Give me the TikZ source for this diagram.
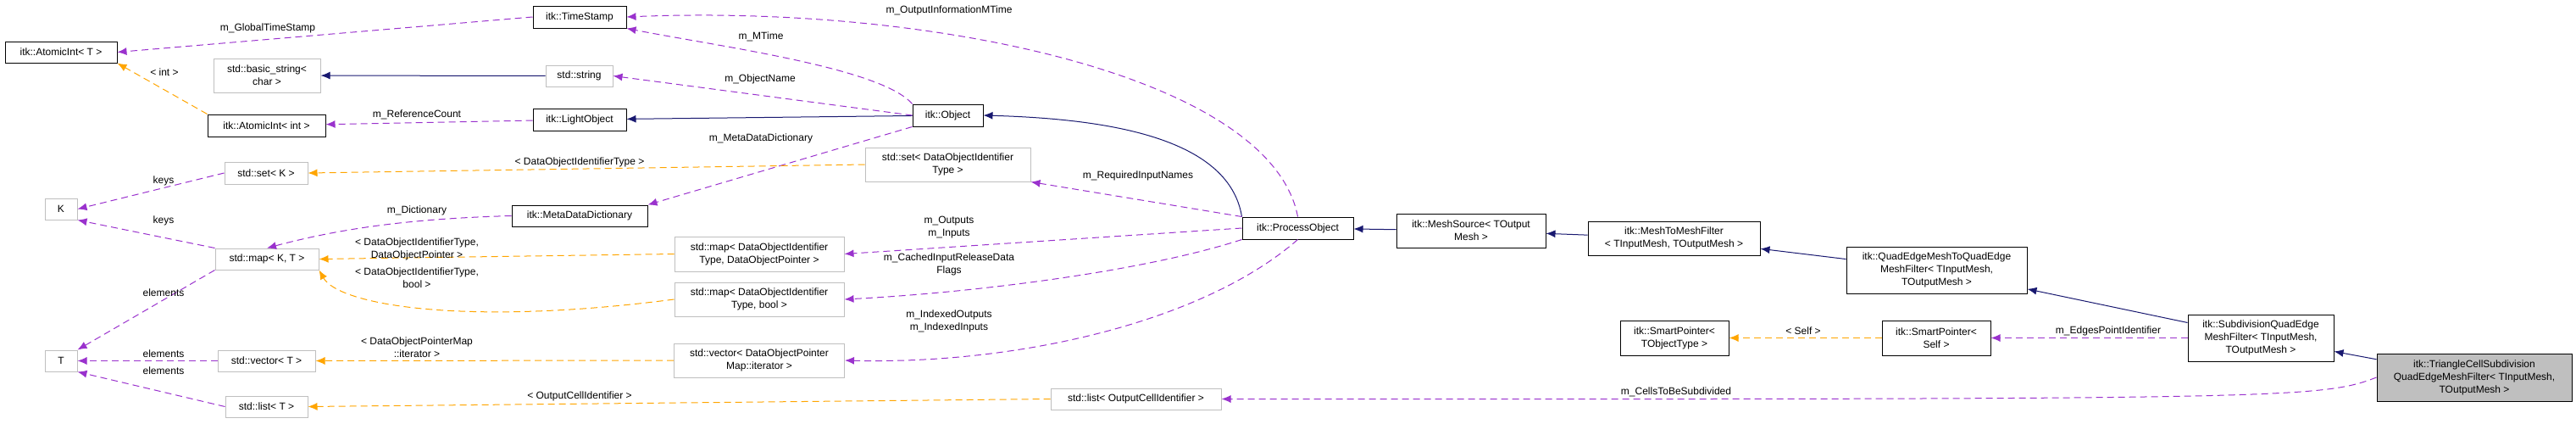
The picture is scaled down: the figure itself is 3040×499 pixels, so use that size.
\documentclass[tikz,border=0pt]{standalone}
\usepackage{fontspec}
\setmainfont{Liberation Sans}
\usetikzlibrary{arrows.meta}
\definecolor{inh}{HTML}{191970}
\definecolor{mem}{HTML}{9A32CD}
\definecolor{tpl}{HTML}{FFA500}
\definecolor{ext}{HTML}{BFBFBF}
\tikzset{
  box/.style={draw, line width=1pt, inner sep=0pt, align=center, font=\fontsize{12}{15}\selectfont},
  cls/.style={box, draw=black},
  extcls/.style={box, draw=ext},
  curcls/.style={box, draw=black, fill=ext},
  lbl/.style={inner sep=0pt, align=center, font=\fontsize{12}{15}\selectfont},
  tip/.style={-{Latex[length=11pt,width=9pt]}},
  isa/.style={tip, draw=inh, line width=1pt},
  has/.style={tip, draw=mem, line width=1pt, dash pattern=on 8pt off 5pt},
  inst/.style={tip, draw=tpl, line width=1pt, dash pattern=on 8pt off 5pt}
}
\begin{document}
\begin{tikzpicture}[x=1pt,y=-1pt]
  \useasboundingbox (0,0) rectangle (3040,499);
  % classes
  \node[cls, minimum width=132, minimum height=25] (atomicT) at (72,61.5) {itk::AtomicInt\textless{} T \textgreater};
  \node[cls, minimum width=110, minimum height=26] (stamp) at (684,20) {itk::TimeStamp};
  \node[extcls, minimum width=126, minimum height=40] (bstr) at (315,89) {std::basic\_string\textless\\char \textgreater};
  \node[extcls, minimum width=79, minimum height=25] (str) at (683.5,89.5) {std::string};
  \node[cls, minimum width=139, minimum height=26] (atomicI) at (314.5,148) {itk::AtomicInt\textless{} int \textgreater};
  \node[cls, minimum width=110, minimum height=26] (light) at (684,141) {itk::LightObject};
  \node[extcls, minimum width=98, minimum height=26] (setK) at (314,204) {std::set\textless{} K \textgreater};
  \node[extcls, minimum width=38, minimum height=25] (K) at (72,246.5) {K};
  \node[cls, minimum width=160, minimum height=25] (mdd) at (684,254.5) {itk::MetaDataDictionary};
  \node[extcls, minimum width=122, minimum height=25] (mapKT) at (315,305.5) {std::map\textless{} K, T \textgreater};
  \node[extcls, minimum width=38, minimum height=25] (T) at (72,425.5) {T};
  \node[extcls, minimum width=115, minimum height=25] (vecT) at (314.5,425.5) {std::vector\textless{} T \textgreater};
  \node[extcls, minimum width=97, minimum height=25] (listT) at (314.5,479.5) {std::list\textless{} T \textgreater};
  \node[cls, minimum width=83, minimum height=26] (obj) at (1118.5,136) {itk::Object};
  \node[extcls, minimum width=195, minimum height=40] (setId) at (1118.5,194) {std::set\textless{} DataObjectIdentifier\\Type \textgreater};
  \node[extcls, minimum width=200, minimum height=41] (mapPtr) at (896,299.5) {std::map\textless{} DataObjectIdentifier\\Type, DataObjectPointer \textgreater};
  \node[extcls, minimum width=200, minimum height=40] (mapBool) at (896,353) {std::map\textless{} DataObjectIdentifier\\Type, bool \textgreater};
  \node[extcls, minimum width=201, minimum height=40] (vecIt) at (896,425) {std::vector\textless{} DataObjectPointer\\Map::iterator \textgreater};
  \node[extcls, minimum width=201, minimum height=25] (listId) at (1340.5,470.5) {std::list\textless{} OutputCellIdentifier \textgreater};
  \node[cls, minimum width=131, minimum height=26] (proc) at (1531.5,269) {itk::ProcessObject};
  \node[cls, minimum width=176, minimum height=40] (src) at (1736,272) {itk::MeshSource\textless{} TOutput\\Mesh \textgreater};
  \node[cls, minimum width=203, minimum height=40] (m2m) at (1975.5,281) {itk::MeshToMeshFilter\\\textless{} TInputMesh, TOutputMesh \textgreater};
  \node[cls, minimum width=213, minimum height=55] (qe2qe) at (2285.5,318.5) {itk::QuadEdgeMeshToQuadEdge\\MeshFilter\textless{} TInputMesh,\\TOutputMesh \textgreater};
  \node[cls, minimum width=128, minimum height=41] (spObj) at (1976,398.5) {itk::SmartPointer\textless\\TObjectType \textgreater};
  \node[cls, minimum width=128, minimum height=41] (spSelf) at (2285,398.5) {itk::SmartPointer\textless\\Self \textgreater};
  \node[cls, minimum width=172, minimum height=55] (subdiv) at (2668,398.5) {itk::SubdivisionQuadEdge\\MeshFilter\textless{} TInputMesh,\\TOutputMesh \textgreater};
  \node[curcls, minimum width=230, minimum height=56] (tri) at (2920,445) {itk::TriangleCellSubdivision\\QuadEdgeMeshFilter\textless{} TInputMesh,\\TOutputMesh \textgreater};
  % inheritance
  \draw[isa] (str) -- (bstr);
  \draw[isa] (obj) -- (light);
  \draw[isa] (proc.north west) .. controls (1450,160) and (1300,140) .. (obj.east);
  \draw[isa] (src) -- (proc);
  \draw[isa] (m2m) -- (src);
  \draw[isa] (qe2qe) -- (m2m);
  \draw[isa] (subdiv) -- (qe2qe);
  \draw[isa] (tri) -- (subdiv);
  % members
  \draw[has] (stamp.west) -- (atomicT.east);
  \draw[has] (light) -- (atomicI);
  \draw[has] (obj.north west) .. controls (1040,80) and (850,55) .. (stamp.south east);
  \draw[has] (proc.north) .. controls (1500,90) and (1100,5) .. (stamp.east);
  \draw[has] (obj.west) -- (str.east);
  \draw[has] (obj.south west) -- (mdd.north east);
  \draw[has] (mdd.west) .. controls (480,258) and (400,270) .. (mapKT.north);
  \draw[has] (setK.west) -- (K.east);
  \draw[has] (mapKT.north west) -- (K.south east);
  \draw[has] (mapKT.south west) -- (T.north east);
  \draw[has] (vecT) -- (T);
  \draw[has] (listT.west) -- (T.south east);
  \draw[has] (proc.north west) -- (setId.south east);
  \draw[has] (proc.west) -- (mapPtr.east);
  \draw[has] (proc.south west) .. controls (1350,320) and (1150,345) .. (mapBool.east);
  \draw[has] (proc.south) .. controls (1420,380) and (1200,430) .. (vecIt.east);
  \draw[has] (subdiv) -- (spSelf);
  \draw[has] (tri.west) .. controls (2740,470) and (2700,471) .. (listId.east);
  % templates
  \draw[inst] (atomicI.north west) -- (atomicT.south east);
  \draw[inst] (setId.west) -- (setK.east);
  \draw[inst] (mapPtr.west) -- (mapKT.east);
  \draw[inst] (mapBool.west) .. controls (550,385) and (400,360) .. (mapKT.south east);
  \draw[inst] (vecIt.west) -- (vecT.east);
  \draw[inst] (listId.west) -- (listT.east);
  \draw[inst] (spSelf) -- (spObj);
  % labels
  \node[lbl] (lGlobal) at (316,33) {m\_GlobalTimeStamp};
  \node[lbl] (lInt) at (194,85) {\textless{} int \textgreater};
  \node[lbl] (lRef) at (492,135) {m\_ReferenceCount};
  \node[lbl] (lMTime) at (898,43) {m\_MTime};
  \node[lbl] (lOutInfo) at (1120,12) {m\_OutputInformationMTime};
  \node[lbl] (lName) at (897,93) {m\_ObjectName};
  \node[lbl] (lMdd) at (898,163) {m\_MetaDataDictionary};
  \node[lbl] (lSetId) at (684,191) {\textless{} DataObjectIdentifierType \textgreater};
  \node[lbl] (lKeys1) at (193,213) {keys};
  \node[lbl] (lKeys2) at (193,260) {keys};
  \node[lbl] (lDict) at (492,248) {m\_Dictionary};
  \node[lbl] (lMapPtr) at (492,294) {\textless{} DataObjectIdentifierType,\\DataObjectPointer \textgreater};
  \node[lbl] (lMapBool) at (492,328) {\textless{} DataObjectIdentifierType,\\bool \textgreater};
  \node[lbl] (lElem1) at (193,345) {elements};
  \node[lbl] (lElem2) at (193,417) {elements};
  \node[lbl] (lElem3) at (193,437) {elements};
  \node[lbl] (lVecIt) at (492,410) {\textless{} DataObjectPointerMap\\::iterator \textgreater};
  \node[lbl] (lListId) at (684,467) {\textless{} OutputCellIdentifier \textgreater};
  \node[lbl] (lReq) at (1343,207) {m\_RequiredInputNames};
  \node[lbl] (lIO) at (1120,268) {m\_Outputs\\m\_Inputs};
  \node[lbl] (lCached) at (1120,312) {m\_CachedInputReleaseData\\Flags};
  \node[lbl] (lIdx) at (1120,379) {m\_IndexedOutputs\\m\_IndexedInputs};
  \node[lbl] (lSelf) at (2128,390) {\textless{} Self \textgreater};
  \node[lbl] (lEdges) at (2488,390) {m\_EdgesPointIdentifier};
  \node[lbl] (lCells) at (1978,462) {m\_CellsToBeSubdivided};
\end{tikzpicture}
\end{document}
